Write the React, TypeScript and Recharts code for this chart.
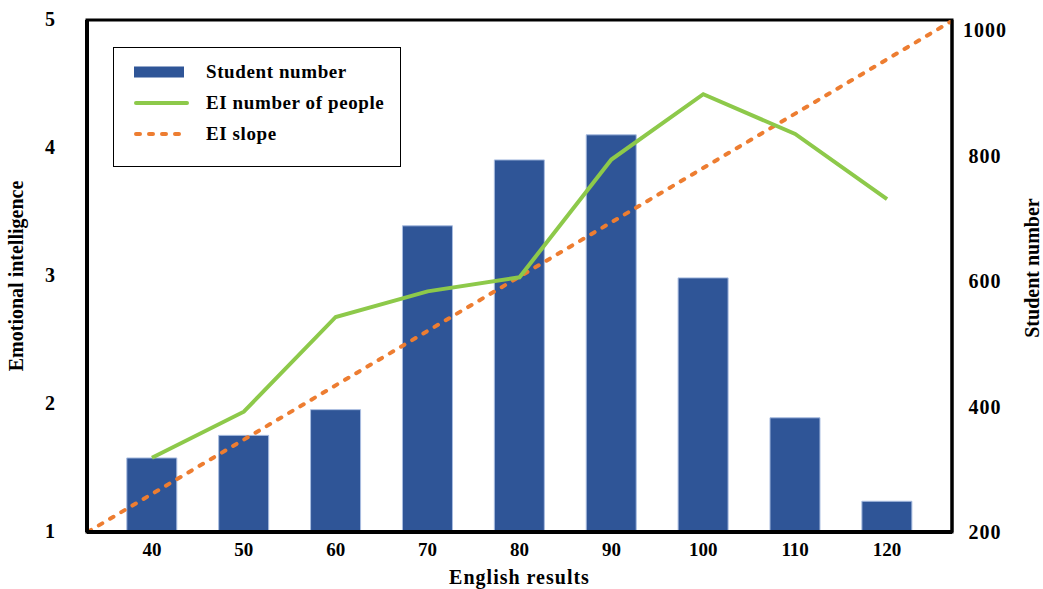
import React from "react";
import { ComposedChart, Bar, Line, XAxis, YAxis, Legend, ReferenceArea } from "recharts";

const scores = [40, 50, 60, 70, 80, 90, 100, 110, 120];
const studentNumber = [318, 354, 395, 688, 793, 833, 605, 382, 249];
const eiPeople = [1.58, 1.94, 2.68, 2.88, 2.99, 3.91, 4.42, 4.11, 3.6];
const slopeScores = [33, 127];
const slopeValues = [1, 4.99];
const leftTicks = [1, 2, 3, 4, 5];
const rightTicks = [200, 400, 600, 800, 1000];
const xDomain = [32.93, 127.07];
const leftDomain = [1, 5];
const rightDomain = [200, 1016];

const data = scores.map((s, i) => ({ score: s, students: studentNumber[i], ei: eiPeople[i] }));
const slopeData = slopeScores.map((s, i) => ({ score: s, slope: slopeValues[i] }));

const FONT = '"Liberation Serif", "Times New Roman", serif';
const BLUE = "#2F5597";
const GREEN = "#8DC94A";
const ORANGE = "#ED7D31";
const legendOrder = ["Student number", "EI number of people", "EI slope"];

const tickStyle = { fill: "#000", fontSize: 20, fontWeight: "bold", fontFamily: FONT };

const RightTick = (p: any) => (
  <text x={p.x} y={p.y} dy="0.35em" textAnchor="middle" style={{ ...tickStyle, letterSpacing: 1 }}>
    {p.payload.value}
  </text>
);

const LeftTick = (p: any) => (
  <text x={p.x} y={p.y} dy="0.3em" textAnchor="end" style={tickStyle}>
    {p.payload.value}
  </text>
);

const leftTitle = (p: any) => {
  const { x, y, height } = p.viewBox;
  const cx = x + 16;
  const cy = y + height / 2;
  return (
    <text x={cx} y={cy} transform={`rotate(-90 ${cx} ${cy})`} textAnchor="middle" dominantBaseline="central" style={tickStyle}>
      Emotional intelligence
    </text>
  );
};

const rightTitle = (p: any) => {
  const { x, y, height } = p.viewBox;
  const cx = x + 80;
  const cy = y + height / 2 - 8;
  return (
    <text x={cx} y={cy} transform={`rotate(-90 ${cx} ${cy})`} textAnchor="middle" dominantBaseline="central" style={tickStyle}>
      Student number
    </text>
  );
};

const renderLegend = (props: any) => {
  const items = [...(props.payload || [])].sort(
    (a: any, b: any) => legendOrder.indexOf(a.value) - legendOrder.indexOf(b.value)
  );
  return (
    <div style={{ border: "1.5px solid #000", width: 286, height: 110, paddingTop: 8, boxSizing: "content-box", background: "#fff" }}>
      {items.map((entry: any) => (
        <div key={entry.value} style={{ display: "flex", alignItems: "center", height: 31 }}>
          <svg width={92} height={14} style={{ flex: "none" }}>
            {entry.type === "rect" ? (
              <rect x={20} y={1.5} width={50} height={11} fill={entry.color} />
            ) : (
              <line
                x1={22} y1={7} x2={73} y2={7}
                stroke={entry.color}
                strokeWidth={4}
                strokeLinecap="round"
                strokeDasharray={entry.payload?.strokeDasharray}
              />
            )}
          </svg>
          <span style={{ fontFamily: FONT, fontWeight: "bold", fontSize: 19, letterSpacing: 0.6, color: "#000" }}>
            {entry.value}
          </span>
        </div>
      ))}
    </div>
  );
};

export default function App() {
  return (
    <div style={{ position: "absolute", left: 0, top: 0, background: "#fff" }}>
      <ComposedChart width={1043} height={589} data={data} margin={{ top: 20, right: 0, bottom: 0, left: 0 }}>
        <XAxis
          dataKey="score"
          type="number"
          domain={xDomain}
          allowDataOverflow
          ticks={scores}
          height={57}
          tickSize={0}
          tickMargin={11}
          tick={{ ...tickStyle, fontSize: 19 }}
          axisLine={{ stroke: "#000", strokeWidth: 4 }}
          label={{
            value: "English results",
            position: "insideBottom",
            offset: 5,
            style: { ...tickStyle, letterSpacing: 1 },
          }}
        />
        <YAxis
          yAxisId="left"
          domain={leftDomain}
          ticks={leftTicks}
          allowDataOverflow
          width={87}
          tickSize={0}
          tickMargin={32}
          tick={<LeftTick />}
          axisLine={{ stroke: "#000", strokeWidth: 4 }}
          label={{ content: leftTitle }}
        />
        <YAxis
          yAxisId="right"
          orientation="right"
          domain={rightDomain}
          ticks={rightTicks}
          allowDataOverflow
          width={91}
          tickSize={0}
          tickMargin={33}
          tick={<RightTick />}
          axisLine={{ stroke: "#000", strokeWidth: 3 }}
          label={{ content: rightTitle }}
        />
        <ReferenceArea
          yAxisId="left"
          x1={xDomain[0]}
          x2={xDomain[1]}
          y1={leftDomain[0]}
          y2={leftDomain[1]}
          fill="none"
          fillOpacity={0}
          stroke="#000"
          strokeWidth={3}
          ifOverflow="visible"
        />
        <Legend
          layout="vertical"
          align="center"
          verticalAlign="middle"
          content={renderLegend}
          wrapperStyle={{ left: 113, top: 47, width: "auto", height: "auto" }}
        />
        <Bar
          yAxisId="right"
          dataKey="students"
          name="Student number"
          fill={BLUE}
          stroke="#A9BDE0"
          strokeWidth={1}
          barSize={50}
          isAnimationActive={false}
        />
        <Line
          yAxisId="left"
          data={slopeData}
          dataKey="slope"
          name="EI slope"
          stroke={ORANGE}
          strokeWidth={4}
          strokeDasharray="4 9"
          strokeLinecap="round"
          dot={false}
          activeDot={false}
          isAnimationActive={false}
        />
        <Line
          yAxisId="left"
          dataKey="ei"
          name="EI number of people"
          stroke={GREEN}
          strokeWidth={4}
          dot={false}
          activeDot={false}
          isAnimationActive={false}
        />
      </ComposedChart>
    </div>
  );
}
